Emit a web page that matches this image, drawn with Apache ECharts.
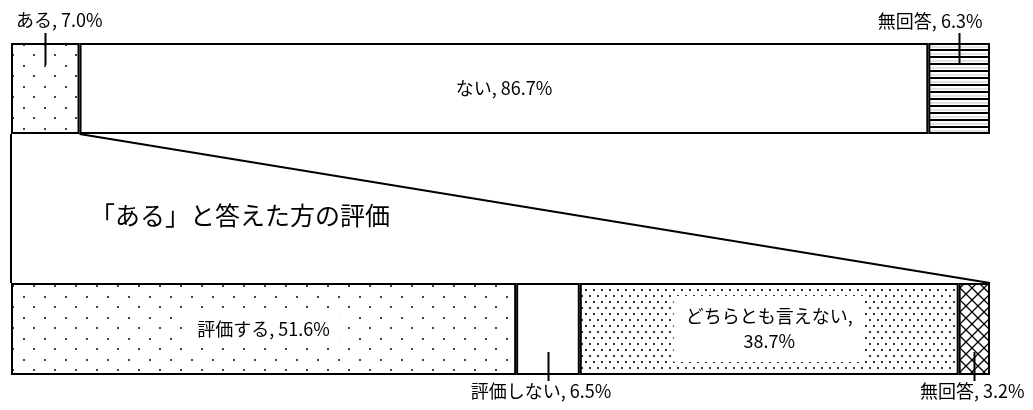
<!DOCTYPE html>
<html>
<head>
<meta charset="utf-8">
<script src="https://cdn.jsdelivr.net/npm/echarts@6/dist/echarts.min.js"></script>
<style>
  html, body { margin: 0; padding: 0; background: #fff; }
  #main { width: 1033px; height: 410px; }
</style>
</head>
<body>
<div id="main"></div>
<script>
// data
var topNames = ['ある', 'ない', '無回答'];
var topValues = [7.0, 86.7, 6.3];
var bottomNames = ['評価する', '評価しない', 'どちらとも言えない', '無回答'];
var bottomValues = [51.6, 6.5, 38.7, 3.2];
var zoomTitle = '「ある」と答えた方の評価';

// layout
var FONT = '"Noto Sans CJK JP", "Noto Sans", sans-serif';
var LEFT = 11, RIGHT = 43;
var TOP_Y = 43, TOP_H = 91;
var BOT_Y = 283, BOT_H = 92;

function pattern(w, h, draw) {
    var c = document.createElement('canvas');
    c.width = w; c.height = h;
    var ctx = c.getContext('2d');
    ctx.fillStyle = '#fff';
    ctx.fillRect(0, 0, w, h);
    draw(ctx);
    return {image: c, repeat: 'repeat'};
}

var sparseDots = pattern(21, 21, function (ctx) {
    ctx.fillStyle = '#444';
    ctx.fillRect(2, 2, 2, 2);
    ctx.fillRect(12, 12, 2, 2);
});
var denseDots = pattern(8, 12, function (ctx) {
    ctx.fillStyle = '#333';
    ctx.fillRect(1, 1, 2, 2);
    ctx.fillRect(5, 7, 2, 2);
});
var hLines = pattern(8, 7, function (ctx) {
    ctx.fillStyle = '#000';
    ctx.fillRect(0, 0, 8, 2);
    ctx.fillStyle = '#e2e2e2';
    ctx.fillRect(0, 4, 8, 2);
});
var crossHatch = pattern(12, 12, function (ctx) {
    ctx.strokeStyle = '#000';
    ctx.lineWidth = 1.3;
    ctx.beginPath();
    ctx.moveTo(0, 0); ctx.lineTo(12, 12);
    ctx.moveTo(12, 0); ctx.lineTo(0, 12);
    ctx.stroke();
});

function fmt(v) { return v.toFixed(1) + '%'; }

var topStyles = [
    {fill: sparseDots, label: {position: 'top', distance: 14, offset: [14, 0]}, leader: true},
    {fill: '#fff', label: {position: 'inside'}},
    {fill: hLines, label: {position: 'top', distance: 13, offset: [-29, 0]}, leader: true}
];
var bottomStyles = [
    {fill: sparseDots, label: {position: 'inside', backgroundColor: '#fff', padding: [7, 10]}},
    {fill: '#fff', label: {position: 'bottom', distance: 7, offset: [-7, 0]}, leader: true},
    {fill: denseDots, label: {position: 'inside', backgroundColor: '#fff', padding: [8, 12], lineHeight: 25}, wrap: true},
    {fill: crossHatch, label: {position: 'bottom', distance: 7, offset: [-2, 0]}, leader: true}
];

function buildSeries(names, values, styles, idx) {
    return names.map(function (name, i) {
        var st = styles[i];
        var lab = Object.assign({
            show: true,
            color: '#000',
            fontSize: 18,
            fontFamily: FONT,
            formatter: function () {
                return name + (st.wrap ? ',\n' : ', ') + fmt(values[i]);
            }
        }, st.label);
        return {
            type: 'bar',
            name: name,
            stack: 'g' + idx,
            xAxisIndex: idx,
            yAxisIndex: idx,
            barWidth: '100%',
            data: [values[i]],
            itemStyle: {color: st.fill, borderColor: '#000', borderWidth: 2},
            label: lab,
            emphasis: {disabled: true}
        };
    });
}

var chart = echarts.init(document.getElementById('main'));
chart.setOption({
    animation: false,
    backgroundColor: '#fff',
    title: {
        text: zoomTitle,
        left: 85,
        top: 198,
        textStyle: {fontSize: 25, fontWeight: 'normal', color: '#000', fontFamily: FONT}
    },
    grid: [
        {left: LEFT, right: RIGHT, top: TOP_Y, height: TOP_H},
        {left: LEFT, right: RIGHT, top: BOT_Y, height: BOT_H}
    ],
    xAxis: [
        {type: 'value', gridIndex: 0, min: 0, max: 100, show: false},
        {type: 'value', gridIndex: 1, min: 0, max: 100, show: false}
    ],
    yAxis: [
        {type: 'category', gridIndex: 0, data: ['top'], show: false},
        {type: 'category', gridIndex: 1, data: ['bottom'], show: false}
    ],
    series: buildSeries(topNames, topValues, topStyles, 0)
        .concat(buildSeries(bottomNames, bottomValues, bottomStyles, 1))
});

// connector and leader lines from the axes' pixel scale
function px(idx, v) { return chart.convertToPixel({xAxisIndex: idx}, v); }

function leaders(values, styles, idx, y0, h) {
    var out = [], acc = 0;
    values.forEach(function (v, i) {
        var cx = Math.round(px(idx, acc + v / 2)) + 0.5;
        acc += v;
        if (!styles[i].leader) return;
        var down = styles[i].label.position === 'top';
        var y1 = down ? y0 - 10 : y0 + h + 6;
        var y2 = down ? y0 + 22 : y0 + h - 23;
        out.push({type: 'line', shape: {x1: cx, y1: y1, x2: cx, y2: y2},
            style: {stroke: '#000', lineWidth: 2}, z: 10});
    });
    return out;
}

var lineStyle = {stroke: '#000', lineWidth: 2};
var graphics = [
    {type: 'line', shape: {x1: px(0, 0), y1: TOP_Y + TOP_H, x2: px(1, 0), y2: BOT_Y}, style: lineStyle},
    {type: 'line', shape: {x1: px(0, topValues[0]), y1: TOP_Y + TOP_H, x2: px(1, 100), y2: BOT_Y}, style: lineStyle}
].concat(leaders(topValues, topStyles, 0, TOP_Y, TOP_H))
 .concat(leaders(bottomValues, bottomStyles, 1, BOT_Y, BOT_H));

chart.setOption({graphic: graphics});
</script>
</body>
</html>
